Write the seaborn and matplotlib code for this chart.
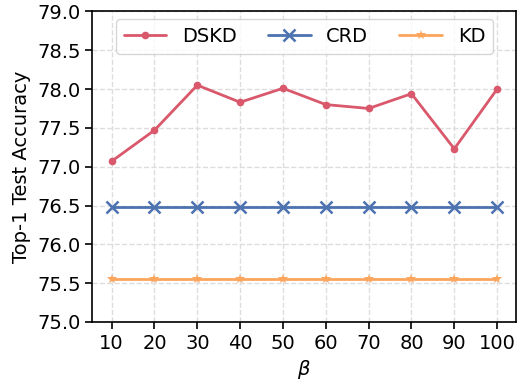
import matplotlib
matplotlib.use("Agg")
import matplotlib.pyplot as plt
import seaborn as sns
import pandas as pd

beta = [10, 20, 30, 40, 50, 60, 70, 80, 90, 100]
dskd = [77.07, 77.47, 78.05, 77.83, 78.01, 77.80, 77.75, 77.94, 77.23, 78.00]
crd = [76.48] * 10
kd = [75.55] * 10
methods = ["DSKD", "CRD", "KD"]

sns.set_style("ticks")
plt.rcParams['font.family'] = ['DejaVu Sans']
plt.rcParams['text.color'] = 'black'
plt.rcParams['xtick.color'] = 'black'
plt.rcParams['ytick.color'] = 'black'
plt.rcParams['axes.labelcolor'] = 'black'

fig, ax = plt.subplots(figsize=(5.19, 3.81), dpi=100)
df = pd.DataFrame({
    "beta": beta * 3,
    "acc": dskd + crd + kd,
    "method": ["DSKD"] * 10 + ["CRD"] * 10 + ["KD"] * 10,
})
palette = {"DSKD": "#d9586b", "CRD": "#4c72b0", "KD": "#fca55d"}

for m, mk, ms, mew in [("DSKD", "o", 5.5, 0), ("CRD", "x", 9, 1.8), ("KD", "*", 7, 0)]:
    sub = df[df["method"] == m]
    sns.lineplot(data=sub, x="beta", y="acc", ax=ax, color=palette[m],
                 linewidth=2, dashes=False, style="method",
                 markers={m: mk}, markersize=ms, markeredgewidth=mew,
                 markeredgecolor=palette[m], legend=False)
    ax.lines[-1].set_label(m)

ax.set_ylim(75.0, 79.0)
yt = [75.0, 75.5, 76.0, 76.5, 77.0, 77.5, 78.0, 78.5, 79.0]
ax.set_yticks(yt)
ax.set_yticklabels([f"{v:.1f}" for v in yt])
ax.set_xlim(5.5, 104.5)
ax.set_xticks(beta)
ax.set_xticklabels([str(b) for b in beta])
ax.tick_params(labelsize=14, direction="out", length=5, width=1.2)
ax.set_xlabel(r"$\beta$", fontsize=14)
ax.set_ylabel("Top-1 Test Accuracy", fontsize=14)
ax.grid(True, linestyle="--", color="#dddddd", linewidth=1)
for s in ax.spines.values():
    s.set_visible(True)
    s.set_linewidth(1.2)
    s.set_color("black")
ax.legend(handles=ax.lines[:3], labels=methods, loc="upper center", ncol=3,
          fontsize=14, frameon=True, handlelength=2.2,
          columnspacing=1.6, borderaxespad=0.4)
fig.subplots_adjust(left=0.178, right=0.995, top=0.97, bottom=0.155)
fig.savefig("out.png", dpi=100)
